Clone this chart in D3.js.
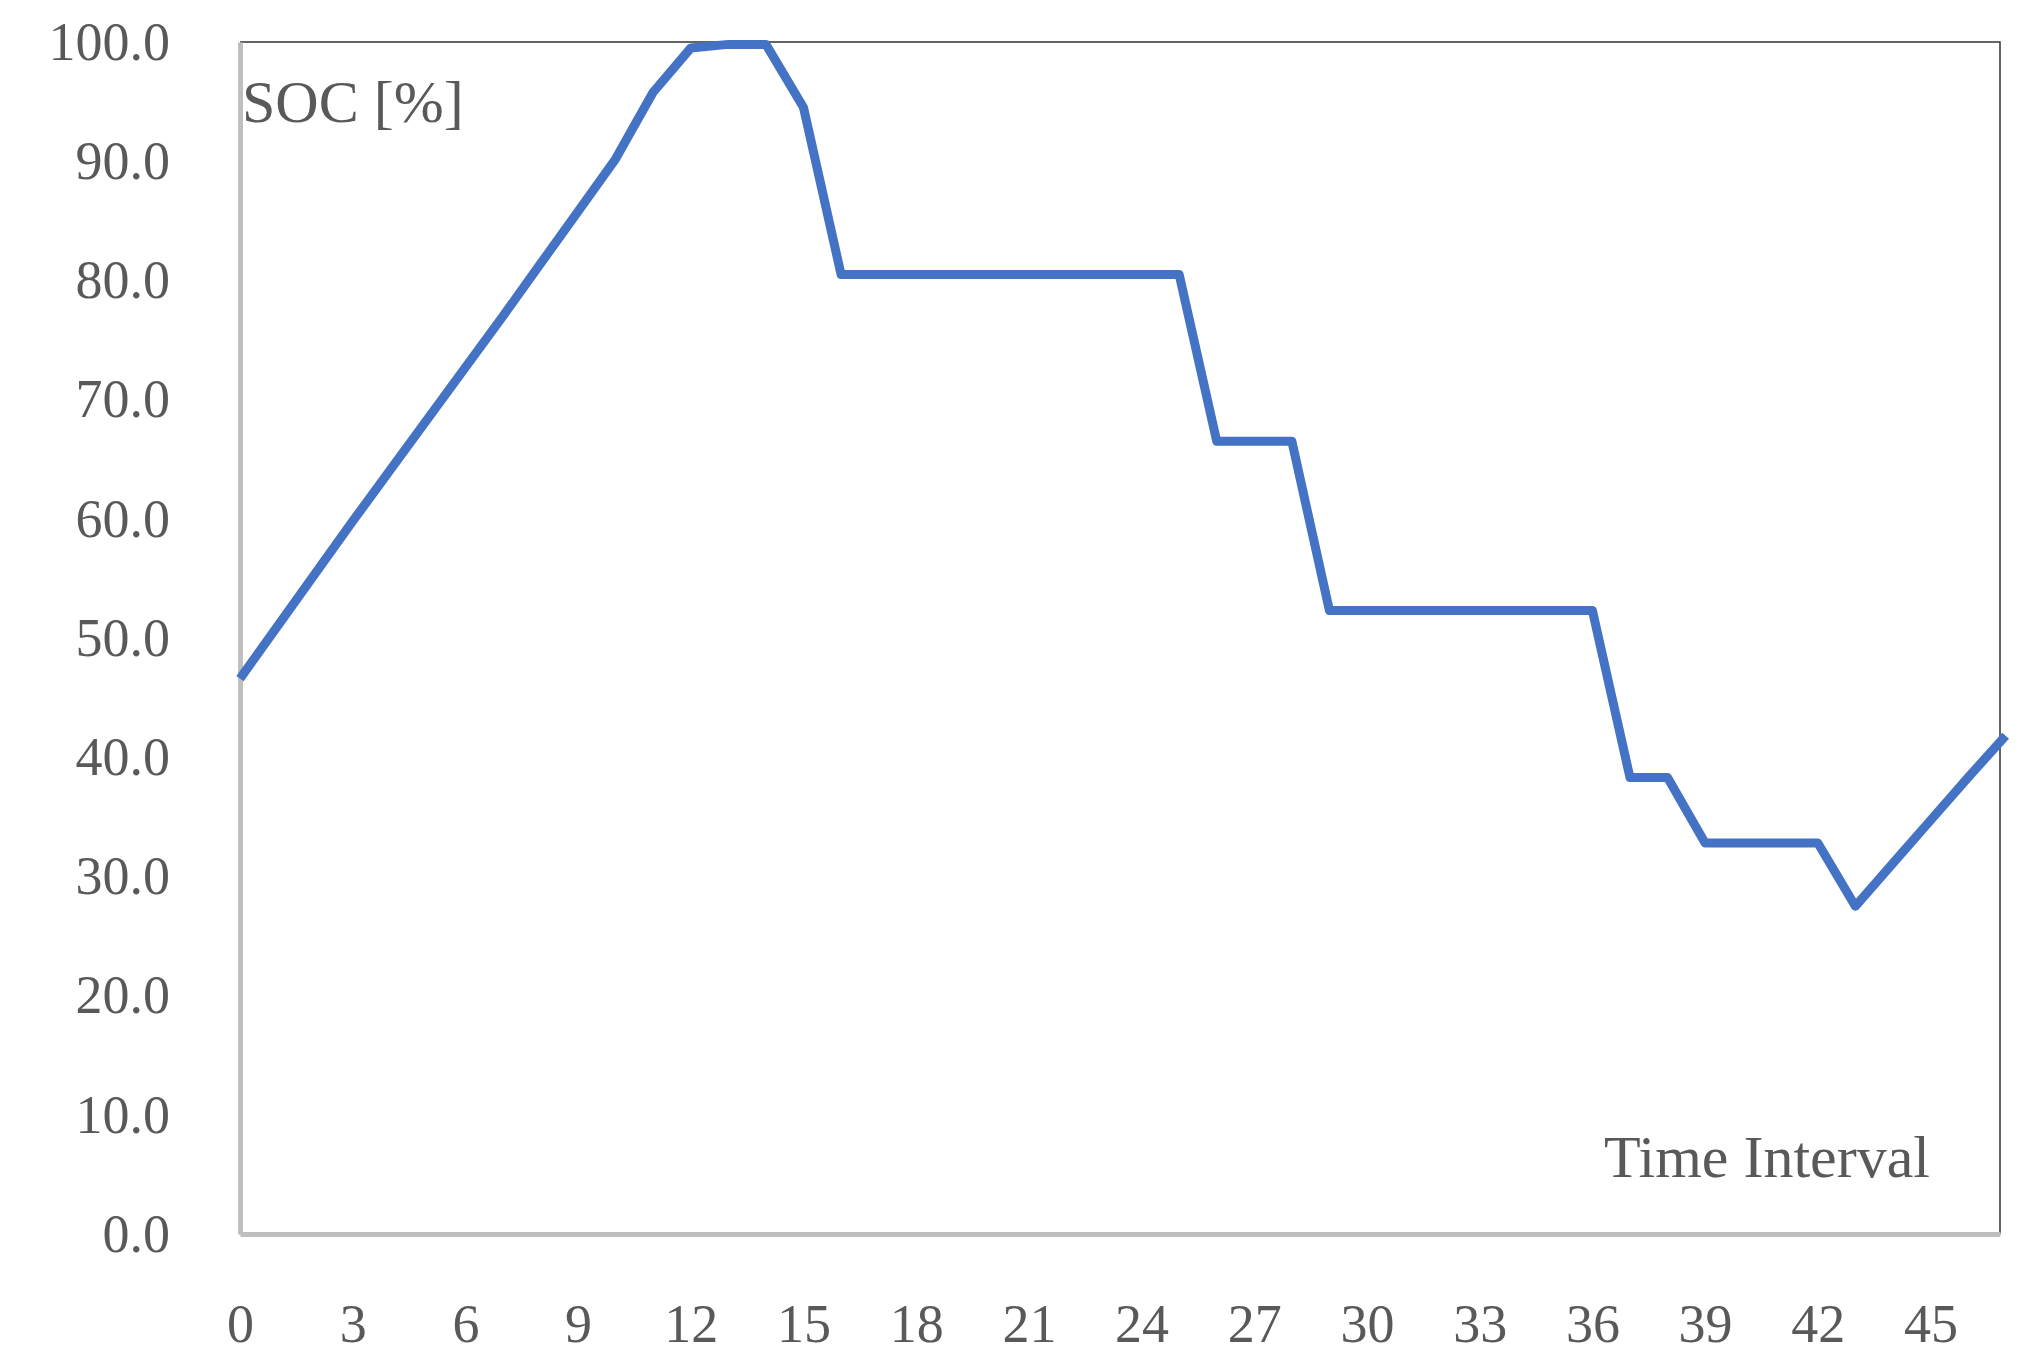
<!DOCTYPE html>
<html><head><meta charset="utf-8">
<script src="https://cdn.jsdelivr.net/npm/d3@7"></script>
<style>body{margin:0;background:#fff}</style>
</head><body><div id="chart"></div>
<script>
const times = d3.range(0, 48);
const soc = [46.6, 51.0, 55.4, 59.8, 64.1, 68.4, 72.7, 77.0, 81.4, 85.8, 90.2, 95.8,
  99.5, 99.8, 99.8, 94.5, 80.5, 80.5, 80.5, 80.5, 80.5, 80.5, 80.5, 80.5, 80.5, 80.5,
  66.5, 66.5, 66.5, 52.3, 52.3, 52.3, 52.3, 52.3, 52.3, 52.3, 52.3, 38.3, 38.3, 32.8,
  32.8, 32.8, 32.8, 27.5, 31.1, 34.7, 38.3, 41.8];
const xTicks = d3.range(0, 46, 3);
const yTicks = d3.range(0, 101, 10);

const width = 2022, height = 1370;
const margin = {left: 240, right: 22, top: 42, bottom: 136};
const font = "'Liberation Serif', 'DejaVu Serif', serif";

const svg = d3.select("#chart").append("svg")
    .attr("width", width).attr("height", height);

const x = d3.scaleLinear().domain([0, 46.85]).range([margin.left, width - margin.right]);
const y = d3.scaleLinear().domain([0, 100]).range([height - margin.bottom, margin.top]);

// frame top/right
svg.append("path")
    .attr("d", `M${x(0)},${y(100)}H${x(46.85)}V${y(0)}`)
    .attr("fill", "none").attr("stroke", "#333").attr("stroke-width", 1.5);

// axes
svg.append("g").attr("transform", `translate(0,${y(0)})`)
    .call(d3.axisBottom(x).tickValues(xTicks).tickSize(0).tickPadding(70))
    .call(g => g.select(".domain").attr("stroke", "#bfbfbf").attr("stroke-width", 5))
    .call(g => g.selectAll("text").attr("font-family", font).attr("font-size", 54).attr("fill", "#595959"));

svg.append("g").attr("transform", `translate(${x(0)},0)`)
    .call(d3.axisLeft(y).tickValues(yTicks).tickFormat(d3.format(".1f")).tickSize(0).tickPadding(70))
    .call(g => g.select(".domain").attr("stroke", "#bfbfbf").attr("stroke-width", 5))
    .call(g => g.selectAll("text").attr("font-family", font).attr("font-size", 54).attr("fill", "#595959"));

// line
svg.append("path")
    .datum(times.map((t, i) => [t, soc[i]]))
    .attr("fill", "none").attr("stroke", "#4472c4").attr("stroke-width", 9)
    .attr("stroke-linejoin", "round")
    .attr("d", d3.line().x(d => x(d[0])).y(d => y(d[1])));

svg.append("text").attr("x", x(0) + 2).attr("y", 122)
    .attr("font-family", font).attr("font-size", 60).attr("fill", "#595959")
    .text("SOC [%]");
svg.append("text").attr("x", 1930).attr("y", 1177).attr("text-anchor", "end")
    .attr("font-family", font).attr("font-size", 60).attr("fill", "#595959")
    .text("Time Interval");
</script></body></html>
